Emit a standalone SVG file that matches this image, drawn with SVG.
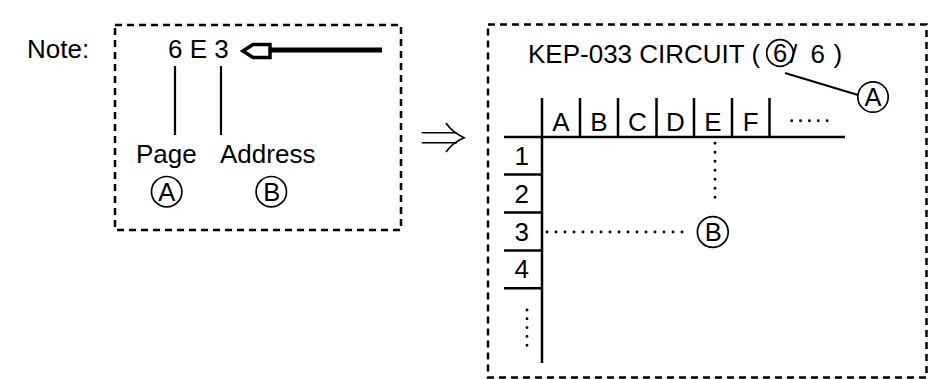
<svg xmlns="http://www.w3.org/2000/svg" width="952" height="379" viewBox="0 0 952 379">
  <style>
    .t { font-family: "Liberation Sans", Arial, sans-serif; font-size: 26px; fill: #000; }
    .c { font-family: "Liberation Sans", Arial, sans-serif; font-size: 25.5px; fill: #000; text-anchor: middle; }
    .m { text-anchor: middle; }
    .box { fill: none; stroke: #000; stroke-width: 2.5; stroke-dasharray: 7 5; }
    .ln { fill: none; stroke: #000; stroke-width: 2.2; }
    .tb { fill: none; stroke: #000; stroke-width: 2.5; }
    .circ { fill: none; stroke: #000; stroke-width: 1.7; }
    .dot { fill: none; stroke: #000; stroke-width: 2.9; stroke-linecap: round; }
  </style>
  <rect width="952" height="379" fill="#fff"/>

  <g id="note-label">
    <text class="t" x="27" y="58">Note:</text>
  </g>

  <g id="left-box">
    <rect class="box" x="115" y="25" width="286" height="205"/>
    <text class="t" x="168" y="58.3">6 E 3</text>
    <path d="M243 51 L253 44.5 L270 44.5 L270 57.5 L253 57.5 Z" fill="none" stroke="#000" stroke-width="3.5" stroke-linejoin="miter"/>
    <line x1="270" y1="50" x2="382" y2="50" stroke="#000" stroke-width="5"/>
    <text class="t" x="136" y="162.7">Page</text>
    <text class="t" x="220" y="162.7">Address</text>
    <g id="circle-a-left">
      <circle class="circ" cx="166.7" cy="191.7" r="15.2"/>
      <text class="c" x="166.7" y="200.8">A</text>
    </g>
    <g id="circle-b-left">
      <circle class="circ" cx="271.3" cy="191.7" r="15.2"/>
      <text class="c" x="271.8" y="200.8">B</text>
    </g>
  </g>

  <g id="right-box">
    <rect class="box" x="488" y="24.5" width="438.5" height="353"/>
    <text class="t" x="528" y="63">KEP-033 CIRCUIT (</text>
    <g id="circled-6">
      <circle class="circ" cx="780" cy="53" r="13.3"/>
      <text class="c" x="780" y="62">6</text>
    </g>
    <text class="t" x="790" y="63">/</text>
    <text class="t" x="810.5" y="63">6</text>
    <text class="t" x="833.5" y="63">)</text>
    <g id="circle-a-right">
      <circle class="circ" cx="873" cy="97" r="15.2"/>
      <text class="c" x="873" y="106">A</text>
    </g>
  </g>

  <g id="table">
    <line class="tb" x1="542" y1="98" x2="542" y2="363"/>
    <line class="tb" x1="504" y1="137" x2="845" y2="137"/>
    <line class="tb" x1="580" y1="98" x2="580" y2="137"/>
    <line class="tb" x1="618" y1="98" x2="618" y2="137"/>
    <line class="tb" x1="656.5" y1="98" x2="656.5" y2="137"/>
    <line class="tb" x1="694" y1="98" x2="694" y2="137"/>
    <line class="tb" x1="732" y1="98" x2="732" y2="137"/>
    <line class="tb" x1="769.5" y1="98" x2="769.5" y2="137"/>
    <line class="tb" x1="504" y1="174.5" x2="542" y2="174.5"/>
    <line class="tb" x1="504" y1="212.6" x2="542" y2="212.6"/>
    <line class="tb" x1="504" y1="250.6" x2="542" y2="250.6"/>
    <line class="tb" x1="504" y1="288.3" x2="542" y2="288.3"/>
    <g class="t m">
      <text x="561" y="131">A</text>
      <text x="599" y="131">B</text>
      <text x="637.3" y="131">C</text>
      <text x="675.3" y="131">D</text>
      <text x="713" y="131">E</text>
      <text x="750.8" y="131">F</text>
      <text x="521.7" y="165">1</text>
      <text x="521.7" y="202.5">2</text>
      <text x="521.7" y="240.5">3</text>
      <text x="521.7" y="278">4</text>
    </g>
    <line class="dot" x1="791.7" y1="120.7" x2="836" y2="120.7" stroke-dasharray="0 8.86"/>
    <line class="dot" x1="527" y1="310" x2="527" y2="354" stroke-dasharray="0 8.8"/>
    <g id="circle-b-right">
      <circle class="circ" cx="712.8" cy="232" r="15.4"/>
      <text class="c" x="713.3" y="241">B</text>
    </g>
  </g>

  <g id="connectors">
    <line class="ln" x1="175" y1="66" x2="175" y2="135"/>
    <line class="ln" x1="221" y1="66" x2="221" y2="135"/>
    <line class="ln" x1="785" y1="73" x2="858" y2="95"/>
    <line class="dot" x1="715" y1="143.3" x2="715" y2="206.3" stroke-dasharray="0 9"/>
    <line class="dot" x1="547" y1="232" x2="691" y2="232" stroke-dasharray="0 9"/>
    <g id="implies-arrow" fill="none" stroke="#000" stroke-width="1.6">
      <path d="M421.7 132.7 H457 M421.7 142.7 H457"/>
      <path d="M446 123 Q452 132 464 137.7 Q452 143 446 152"/>
    </g>
  </g>
</svg>
